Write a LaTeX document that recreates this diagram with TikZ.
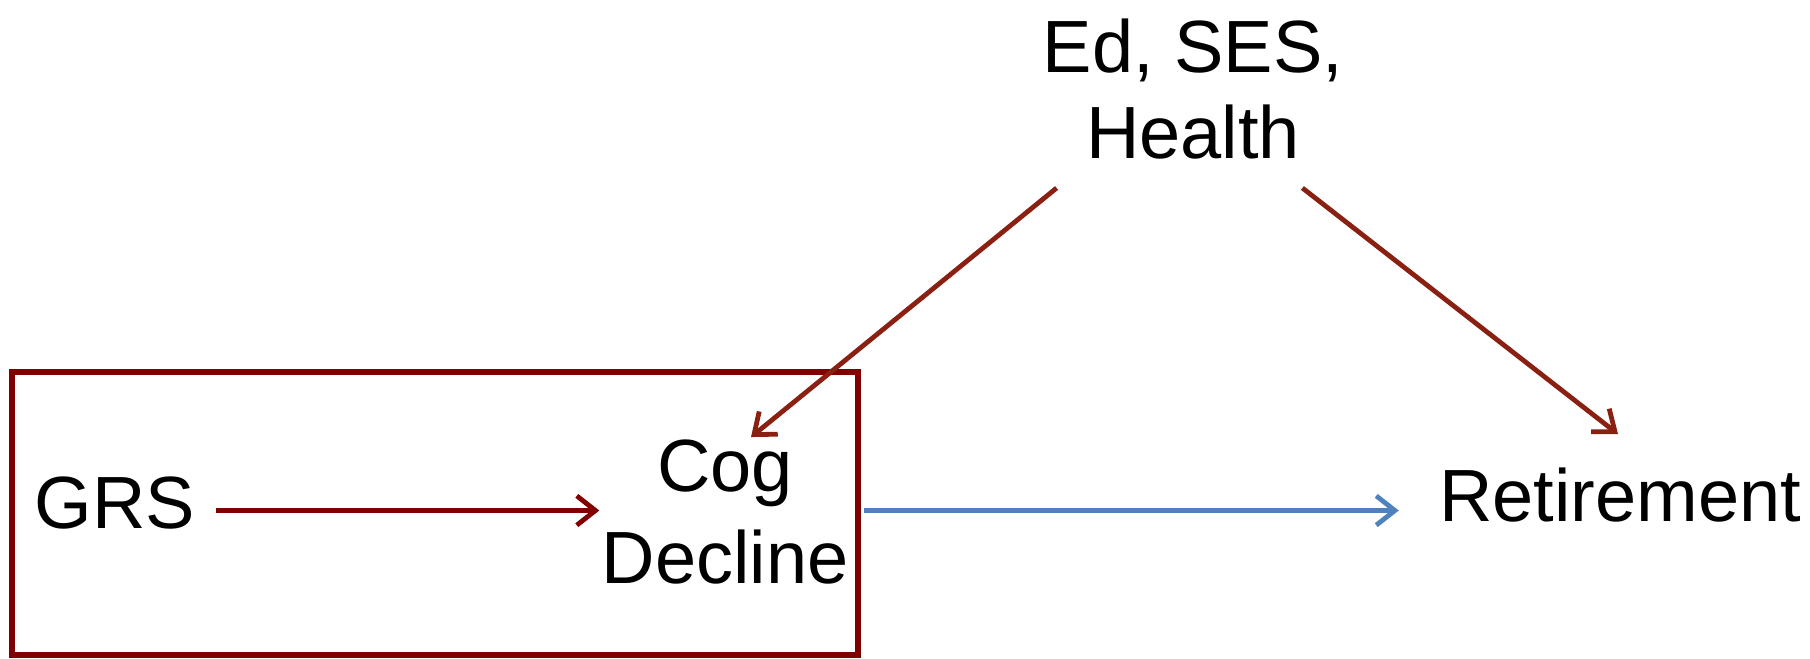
\documentclass[tikz,border=0pt]{standalone}
\usepackage{fontspec}
\setmainfont{Liberation Sans}
\usetikzlibrary{arrows.meta,shadows,calc}
\definecolor{boxred}{RGB}{128,0,0}
\definecolor{diagred}{RGB}{137,32,18}
\definecolor{arrblue}{RGB}{79,129,189}
\begin{document}
\begin{tikzpicture}[x=0.75pt,y=-0.75pt,
  lbl/.style={inner sep=0pt, font=\fontsize{55.5}{69}\selectfont, align=center},
  frame/.style={draw=boxred, line width=5.2pt, fill=white, inner sep=0pt,
    minimum width=634.5pt, minimum height=212.25pt,
    drop shadow={shadow xshift=2.5pt, shadow yshift=-2.5pt, fill=black, opacity=0.35}},
  arr/.style={line width=3.6pt, -{Straight Barb[length=14pt,width=22pt]}},
  grsarr/.style={arr, draw=boxred},
  diagarr/.style={arr, draw=diagred},
  bluearr/.style={arr, draw=arrblue}]
\useasboundingbox (0,0) rectangle (1810,659);
\node[frame] (box) at (435,513.5) {};
\node[lbl, anchor=base] (grs) at (115,528) {GRS};
\node[lbl, anchor=base] (cog) at (725,583) {Cog\\Decline};
\node[lbl, anchor=base, font=\fontsize{55.5}{65}\selectfont] (ses) at (1193,159) {Ed, SES,\\Health};
\node[lbl, anchor=base] (ret) at (1620,521) {Retirement};
\draw[grsarr] ($(grs.east)+(21,8)$) -- ($(grs.east -| cog.west)+(-2,8)$);
\draw[bluearr] ($(box.east |- grs.east)+(3,8)$) -- ($(ret.west |- grs.east)+(-40,8)$);
\draw[diagarr] ($(ses.south west)+(14,28)$) -- ($(cog.north)+(26,-2)$);
\draw[diagarr] ($(ses.south east)+(-41,28)$) -- ($(ret.north)+(-2,-33)$);
\end{tikzpicture}
\end{document}
